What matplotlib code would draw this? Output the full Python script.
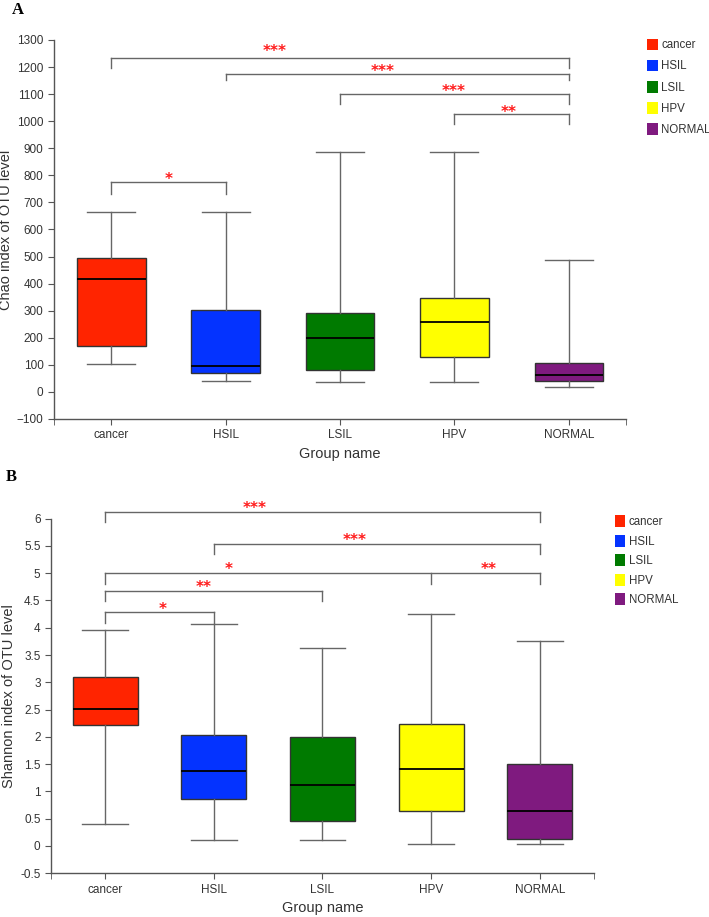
import matplotlib
matplotlib.use("Agg")
import matplotlib.pyplot as plt
from matplotlib.patches import Patch

plt.rcParams["font.family"] = ["Liberation Sans", "DejaVu Sans"]

# groups and colours
groups = ["cancer", "HSIL", "LSIL", "HPV", "NORMAL"]
colors = ["#ff2400", "#0433ff", "#007a00", "#ffff00", "#7f1a7f"]

# panel A: Chao index (whisker low, Q1, median, Q3, whisker high)
chao_lo = [103, 42, 36, 36, 17]
chao_q1 = [171, 68, 81, 130, 42]
chao_med = [418, 96, 198, 257, 62]
chao_q3 = [495, 304, 290, 347, 106]
chao_hi = [666, 663, 886, 886, 488]

# panel B: Shannon index
shan_lo = [0.41, 0.11, 0.11, 0.04, 0.03]
shan_q1 = [2.21, 0.86, 0.46, 0.64, 0.12]
shan_med = [2.52, 1.38, 1.11, 1.41, 0.65]
shan_q3 = [3.10, 2.03, 1.99, 2.24, 1.50]
shan_hi = [3.95, 4.06, 3.63, 4.25, 3.75]

# significance brackets: (tick positions, line y, tick bottom y, [(star x, star y, text)])
chao_brackets = [
    ([1, 5], 1233, 1196, [(2.43, 1268, "***")]),
    ([2, 5], 1175, 1152, [(3.37, 1196, "***")]),
    ([3, 5], 1100, 1062, [(3.99, 1122, "***")]),
    ([4, 5], 1026, 990, [(4.47, 1043, "**")]),
    ([1, 2], 776, 730, [(1.50, 795, "*")]),
]
shan_brackets = [
    ([1, 5], 6.12, 5.93, [(2.38, 6.24, "***")]),
    ([2, 5], 5.53, 5.35, [(3.30, 5.65, "***")]),
    ([1, 4, 5], 5.00, 4.81, [(2.14, 5.12, "*"), (4.53, 5.11, "**")]),
    ([1, 3], 4.68, 4.49, [(1.91, 4.79, "**")]),
    ([1, 2], 4.28, 4.08, [(1.53, 4.39, "*")]),
]

AXIS_GREY = "#555555"
TEXT_GREY = "#333333"


def draw_panel(ax, lo, q1, med, q3, hi, brackets, ylim, yticks, ylabel, star_dy, label_x):
    stats = []
    for g, a, b, c, d, e in zip(groups, lo, q1, med, q3, hi):
        stats.append({"label": g, "whislo": a, "q1": b, "med": c, "q3": d, "whishi": e})
    pos = list(range(1, len(groups) + 1))
    bp = ax.bxp(stats, positions=pos, widths=0.6, capwidths=0.42,
                patch_artist=True, showfliers=False,
                boxprops=dict(edgecolor="#333333", linewidth=1.0),
                medianprops=dict(color="black", linewidth=1.3),
                whiskerprops=dict(color="#666666", linewidth=1.0),
                capprops=dict(color="#666666", linewidth=1.0))
    for patch, col in zip(bp["boxes"], colors):
        patch.set_facecolor(col)

    ax.set_xlim(0.5, 5.5)
    ax.set_ylim(*ylim)
    ax.set_yticks(yticks)
    ax.set_xticks(pos)
    ax.set_xticklabels(groups)
    ax.set_xticks([0.5, 5.5], minor=True)
    for s in ["top", "right"]:
        ax.spines[s].set_visible(False)
    for s in ["left", "bottom"]:
        ax.spines[s].set_color(AXIS_GREY)
        ax.spines[s].set_linewidth(1.0)
    ax.tick_params(axis="both", which="both", direction="out", length=4,
                   color=AXIS_GREY, labelcolor=TEXT_GREY, labelsize=8.5)
    ax.set_ylabel(ylabel, fontsize=10.5, color=TEXT_GREY)
    ax.yaxis.set_label_coords(label_x, 0.5)
    ax.set_xlabel("Group name", fontsize=10.5, color=TEXT_GREY, labelpad=4)

    for ticks, yl, yb, stars in brackets:
        ax.plot([ticks[0], ticks[-1]], [yl, yl], color="#666666", lw=1.0, clip_on=False)
        for t in ticks:
            ax.plot([t, t], [yl, yb], color="#666666", lw=1.0, clip_on=False)
        for sx, sy, txt in stars:
            ax.text(sx, sy - star_dy, txt, color="#ff1a1a", fontsize=11,
                    fontweight="bold", ha="center", va="center", clip_on=False,
                    family="DejaVu Sans")


fig = plt.figure(figsize=(7.09, 9.17), dpi=100)

axA = fig.add_axes([0.0762, 0.5431, 0.8068, 0.4133])
draw_panel(axA, chao_lo, chao_q1, chao_med, chao_q3, chao_hi, chao_brackets,
           (-100, 1300), list(range(-100, 1301, 100)), "Chao index of OTU level", 12,
           -0.072)

axB = fig.add_axes([0.0719, 0.0477, 0.7659, 0.3867])
draw_panel(axB, shan_lo, shan_q1, shan_med, shan_q3, shan_hi, shan_brackets,
           (-0.5, 6), [-0.5, 0, 0.5, 1, 1.5, 2, 2.5, 3, 3.5, 4, 4.5, 5, 5.5, 6],
           "Shannon index of OTU level", 0.05, -0.064)
axB.set_yticklabels(["-0.5", "0", "0.5", "1", "1.5", "2", "2.5", "3", "3.5", "4",
                     "4.5", "5", "5.5", "6"])

handles = [Patch(facecolor=c, edgecolor="none", label=g) for g, c in zip(groups, colors)]
for anchor, spacing in [((0.913, 0.958), 0.72), ((0.867, 0.438), 0.58)]:
    fig.legend(handles=handles, loc="upper left", bbox_to_anchor=anchor, frameon=False,
               fontsize=8.3, handlelength=0.9, handleheight=1.2, handletextpad=0.3,
               labelspacing=spacing, borderaxespad=0, borderpad=0, labelcolor=TEXT_GREY)

fig.text(18 / 709, 1 - 10 / 917, "A", fontsize=12, fontweight="bold",
         family="Liberation Serif", ha="center", va="center")
fig.text(11 / 709, 1 - 477 / 917, "B", fontsize=12, fontweight="bold",
         family="Liberation Serif", ha="center", va="center")

fig.savefig("out.png", dpi=100)
